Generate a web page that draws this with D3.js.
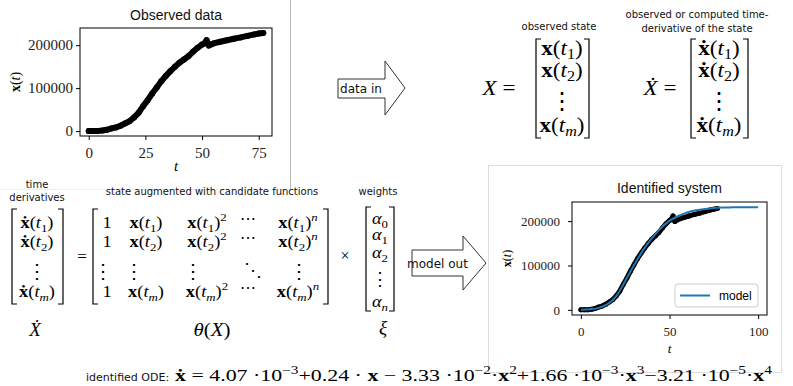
<!DOCTYPE html>
<html>
<head>
<meta charset="utf-8">
<script src="https://cdn.jsdelivr.net/npm/d3@7"></script>
<style>
  body { margin: 0; background: #fff; }
  text { white-space: pre; }
</style>
</head>
<body>
<svg id="fig" width="793" height="386"></svg>
<script>
const obsT = [0, 2, 4, 6, 8, 10, 12, 14, 16, 18, 20, 22, 24, 26, 28, 30, 32, 34, 36, 38,
              40, 42, 44, 46, 48, 50, 51, 52, 53, 55, 58, 61, 64, 67, 70, 73, 75, 77];
const obsX = [0, 200, 500, 1200, 3000, 6200, 8500, 12400, 17800, 23000, 31800, 42600, 58000,
              72000, 87600, 101500, 116000, 128000, 139500, 149600, 159000, 166700, 174400,
              184500, 193800, 201500, 204000, 211600, 199000, 204000, 208000, 211500, 215000,
              218000, 221500, 225000, 227000, 228500];

// identified model
const modelT = [0, 5, 10, 15, 20, 25, 30, 35, 40, 45, 50, 55, 60, 65, 70, 75, 80, 85, 90, 95, 100];
const modelX = [500, 1500, 4500, 13000, 31000, 65000, 101000, 134000, 161000, 184000, 200500,
                211500, 219500, 224500, 227500, 229500, 230500, 231000, 231300, 231500, 231500];

const obsTicks = [0, 25, 50, 75];
const idTicks = [0, 50, 100];
const yTicks = [0, 100000, 200000];

const MATH = "Liberation Serif, DejaVu Serif, serif";
const SANS = "DejaVu Sans, sans-serif";
const TSANS = "Liberation Sans, Arial, sans-serif";

const svg = d3.select("#fig");

// panel outlines
svg.append("line").attr("x1", 290.5).attr("x2", 290.5).attr("y1", 0).attr("y2", 189)
  .attr("stroke", "#bbb");
svg.append("line").attr("x1", 0).attr("x2", 290).attr("y1", 189.5).attr("y2", 189.5)
  .attr("stroke", "#eee");
svg.append("rect").attr("x", 488.5).attr("y", 165.5).attr("width", 293).attr("height", 207)
  .attr("fill", "none").attr("stroke", "#ddd");

// matplotlib style 5% margins
function pad(ext) {
  const m = (ext[1] - ext[0]) * 0.05;
  return [ext[0] - m, ext[1] + m];
}

// text with sub/superscripts; parts = [[string, style]], style: b/i/r + optional _ or ^
function math(parent, x, y, parts, size, anchor, sx) {
  const g = parent.append("g")
    .attr("transform", "translate(" + x + "," + y + ") scale(" + (sx || 1) + ",1)");
  const t = g.append("text")
    .attr("text-anchor", anchor || "middle")
    .attr("font-family", MATH)
    .attr("font-size", size)
    .attr("fill", "#000");
  let off = 0;
  parts.forEach(function(p) {
    const s = p[0], st = p[1];
    const pos = st[1] === "_" ? 0.22 * size : st[1] === "^" ? -0.42 * size : 0;
    const ts = t.append("tspan").text(s).attr("dy", pos - off);
    off = pos;
    if (st[0] === "b") ts.attr("font-weight", "bold");
    if (st[0] === "i") ts.attr("font-style", "italic");
    if (pos) ts.attr("font-size", size * 0.7);
  });
  return g;
}

function label(txt, x, y, size, fam, anchor) {
  return svg.append("text").attr("x", x).attr("y", y).attr("text-anchor", anchor || "middle")
    .attr("font-family", fam || SANS).attr("font-size", size).attr("fill", "#111").text(txt);
}

function brackets(x0, x1, y0, y1) {
  const w = 5;
  svg.append("path")
    .attr("d", "M" + (x0 + w) + "," + y0 + "H" + x0 + "V" + y1 + "H" + (x0 + w) +
               "M" + (x1 - w) + "," + y0 + "H" + x1 + "V" + y1 + "H" + (x1 - w))
    .attr("fill", "none").attr("stroke", "#000").attr("stroke-width", 1.2);
}

function dots(ch, x, y, size) {
  svg.append("text").attr("x", x).attr("y", y).attr("text-anchor", "middle")
    .attr("font-family", "DejaVu Serif, serif").attr("font-size", size).text(ch);
}

const isNum = s => /^\d+$/.test(s);
function xt(dot, sub, pow) {
  const p = [[dot ? "ẋ" : "x", "b"], ["(", "r"], ["t", "i"], [sub, isNum(sub) ? "r_" : "i_"], [")", "r"]];
  if (pow) p.push([pow, isNum(pow) ? "r^" : "i^"]);
  return p;
}

function plot(o) {
  const g = svg.append("g");
  const x = d3.scaleLinear().domain(pad(o.xExt)).range([o.l, o.r]);
  const y = d3.scaleLinear().domain(pad(o.yExt)).range([o.b, o.t]);

  const ax = g.append("g").attr("transform", "translate(0," + o.b + ")")
    .call(d3.axisBottom(x).tickValues(o.xTicks).tickSize(4).tickPadding(o.xPad).tickFormat(d3.format("d")));
  const ay = g.append("g").attr("transform", "translate(" + o.l + ",0)")
    .call(d3.axisLeft(y).tickValues(yTicks).tickSize(4).tickPadding(o.yPad).tickFormat(d3.format("d")));
  [ax, ay].forEach(a => {
    a.select(".domain").remove();
    a.selectAll("text").attr("font-family", MATH).attr("font-size", o.fs).attr("fill", "#222");
    a.selectAll("line").attr("stroke", "#000");
  });

  const line = d3.line().x(d => x(d[0])).y(d => y(d[1]));
  const pts = d3.zip(obsT, obsX);
  g.append("path").attr("d", line(pts)).attr("fill", "none").attr("stroke", "#000")
    .attr("stroke-width", o.dw).attr("stroke-linejoin", "round").attr("stroke-linecap", "round");
  g.selectAll(".pt").data(pts).enter().append("circle")
    .attr("cx", d => x(d[0])).attr("cy", d => y(d[1])).attr("r", o.dw / 2).attr("fill", "#000");

  if (o.model) {
    g.append("path").attr("d", line.curve(d3.curveMonotoneX)(d3.zip(modelT, modelX)))
      .attr("fill", "none").attr("stroke", "#1f77b4").attr("stroke-width", 2);
    // legend
    g.append("rect").attr("x", 675).attr("y", 284).attr("width", 83).attr("height", 23).attr("rx", 3)
      .attr("fill", "#fff").attr("fill-opacity", 0.8).attr("stroke", "#ccc");
    g.append("line").attr("x1", 680).attr("x2", 710).attr("y1", 295.5).attr("y2", 295.5)
      .attr("stroke", "#1f77b4").attr("stroke-width", 2);
    g.append("text").attr("x", 719).attr("y", 300).attr("font-family", TSANS).attr("font-size", 12)
      .text("model");
  }

  g.append("rect").attr("x", o.l).attr("y", o.t).attr("width", o.r - o.l).attr("height", o.b - o.t)
    .attr("fill", "none").attr("stroke", "#000").attr("stroke-width", 1);

  label(o.title, (o.l + o.r) / 2, o.tY, 14, TSANS);
  math(svg, x(o.xExt[0] + (o.xExt[1] - o.xExt[0]) / 2), o.xlY, [["t", "i"]], o.fs, "middle");
  const yl = math(svg, 0, 0, [["x", "b"], ["(", "r"], ["t", "i"], [")", "r"]], o.fs - 1, "middle");
  yl.attr("transform", "translate(" + o.ylX + "," + ((o.t + o.b) / 2) + ") rotate(-90)");
}

plot({ l: 80, r: 272, t: 28, b: 136, xExt: [0, 77], yExt: [0, d3.max(obsX)],
       xTicks: obsTicks, xPad: 7, yPad: 3, fs: 15, dw: 6,
       title: "Observed data", tY: 20, xlY: 171, ylX: 20 });

plot({ l: 572, r: 767, t: 202, b: 315, xExt: [0, 100], yExt: [0, d3.max(modelX.concat(obsX))],
       xTicks: idTicks, xPad: 8, yPad: 8, fs: 13, dw: 5, model: true,
       title: "Identified system", tY: 193, xlY: 353, ylX: 511 });

// arrows
svg.append("path").attr("d", "M338,79H385V61L405,88L385,115V98H338Z")
  .attr("fill", "#fff").attr("stroke", "#333");
label("data in", 361, 92.5, 12);
svg.append("path").attr("d", "M412,250H463V236L486,263L463,290V276H412Z")
  .attr("fill", "#fff").attr("stroke", "#333");
label("model out", 437.5, 268, 12);

// top: state and derivative matrices
label("observed state", 559, 30, 10);
label("observed or computed time-", 697, 18, 10);
label("derivative of the state", 697, 32, 10);

const rowsTop = ["1", "2", null, "m"];
const yTop = [55, 77, 100, 132];
math(svg, 499, 95, [["X", "i"], [" =", "r"]], 21, "middle", 1.1);
brackets(536, 589, 39, 138);
math(svg, 660, 95, [["Ẋ", "i"], [" =", "r"]], 21, "middle", 1.1);
brackets(691, 748, 39, 138);
rowsTop.forEach((s, i) => {
  if (s) {
    math(svg, 562, yTop[i], xt(false, s), 20, "middle", 1.15);
    math(svg, 719, yTop[i], xt(true, s), 20, "middle", 1.15);
  } else {
    dots("⋮", 562, yTop[i] + 9, 24);
    dots("⋮", 719, yTop[i] + 9, 24);
  }
});

// bottom: regression problem
label("time", 37, 188, 10);
label("derivatives", 37, 201, 10);
label("state augmented with candidate functions", 212, 195, 10);
label("weights", 378, 195, 10);

const yBot = [228, 247, 270, 297];
brackets(12, 63, 209, 304);
brackets(93, 328, 209, 304);
rowsTop.forEach((s, i) => {
  if (s) {
    math(svg, 37, yBot[i], xt(true, s), 16, "middle", 1.15);
    math(svg, 107, yBot[i], [["1", "r"]], 16, "middle", 1.15);
    math(svg, 146, yBot[i], xt(false, s), 16, "middle", 1.15);
    math(svg, 207, yBot[i], xt(false, s, "2"), 16, "middle", 1.15);
    dots("⋯", 248, yBot[i] - 4, 16);
    math(svg, 298, yBot[i], xt(false, s, "n"), 16, "middle", 1.15);
  } else {
    dots("⋮", 37, yBot[i] + 8, 20);
    [103, 134, 193, 299].forEach(cx => dots("⋮", cx, yBot[i] + 8, 20));
    dots("⋱", 253, yBot[i] + 6, 18);
  }
});
math(svg, 82, 262, [["=", "r"]], 17, "middle");
math(svg, 345, 261, [["×", "r"]], 16, "middle");

const alphaSubs = ["0", "1", "2", null, "n"];
const yAlpha = [224, 240, 258, 278, 307];
brackets(366, 394, 207, 311);
alphaSubs.forEach((s, i) => {
  if (s) math(svg, 380, yAlpha[i], [["α", "i"], [s, isNum(s) ? "r_" : "i_"]], 16, "middle", 1.15);
  else dots("⋮", 380, yAlpha[i] + 7, 18);
});

math(svg, 35, 336, [["Ẋ", "i"]], 19, "middle");
math(svg, 212, 336, [["θ", "i"], ["(", "r"], ["X", "i"], [")", "r"]], 19, "middle", 1.1);
math(svg, 383, 334, [["ξ", "i"]], 19, "middle");

// identified ODE
label("identified ODE:", 86, 381, 11, SANS, "start");
const ode = math(svg, 0, 0, [
  ["ẋ", "b"], [" = 4.07 ·10", "r"], ["−3", "r^"], ["+0.24 · ", "r"], ["x", "b"],
  [" − 3.33 ·10", "r"], ["−2", "r^"], ["·", "r"], ["x", "b"], ["2", "r^"],
  ["+1.66 ·10", "r"], ["−3", "r^"], ["·", "r"], ["x", "b"], ["3", "r^"],
  ["−3.21 ·10", "r"], ["−5", "r^"], ["·", "r"], ["x", "b"], ["4", "r^"]
], 17, "start");
const w = ode.node().getBBox().width;
ode.attr("transform", "translate(175,381) scale(" + (597 / w) + ",1)");
</script>
</body>
</html>
